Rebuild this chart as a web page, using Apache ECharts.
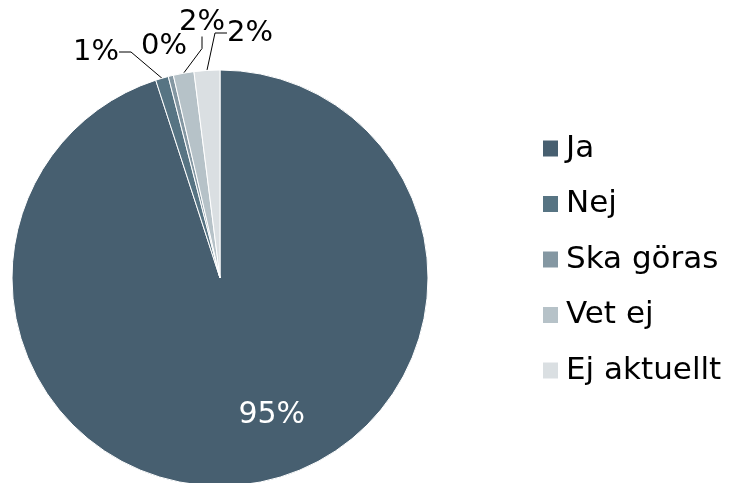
<!DOCTYPE html>
<html>
<head>
<meta charset="utf-8">
<script src="https://cdn.jsdelivr.net/npm/echarts@6/dist/echarts.min.js"></script>
<style>
  html, body { margin: 0; padding: 0; background: #fff; }
  #chart { width: 733px; height: 483px; }
</style>
</head>
<body>
<div id="chart"></div>
<script>
const categories = ['Ja', 'Nej', 'Ska göras', 'Vet ej', 'Ej aktuellt'];
const values = [95.0, 1.0, 0.4, 1.6, 2.0];
const colors = ['#475f70', '#577483', '#8497a2', '#b6c2c8', '#dadfe2'];

// where the small percentage labels sit (label centre), as in the original
const labelSpots = [null, [96, 52], [164, 46], [202, 22], [250, 33]];

const chart = echarts.init(document.getElementById('chart'));
const font = 'DejaVu Sans, Verdana, sans-serif';

chart.setOption({
    animation: false,
    color: colors,
    legend: {
        orient: 'vertical',
        left: 536,
        top: 128,
        itemWidth: 17,
        itemHeight: 18,
        itemGap: 24.5,
        icon: 'rect',
        textStyle: {fontFamily: font, fontSize: 31, color: '#000', padding: [0, 0, 0, 2]},
        data: categories
    },
    series: [{
        type: 'pie',
        center: [220, 278],
        radius: 208,
        startAngle: 90,
        clockwise: true,
        avoidLabelOverlap: false,
        itemStyle: {borderColor: '#fff', borderWidth: 1},
        label: {
            show: true,
            fontFamily: font,
            fontSize: 29,
            color: '#000',
            overflow: 'none',
            formatter: p => Math.round(p.value) + '%'
        },
        labelLine: {show: true, length: 12, length2: 12, lineStyle: {color: '#000', width: 1}},
        labelLayout: params => {
            if (params.dataIndex === 0) {
                return {dx: 35, dy: 32};
            }
            const spot = labelSpots[params.dataIndex];
            return {x: spot[0], y: spot[1], align: 'center', verticalAlign: 'middle'};
        },
        data: categories.map((name, i) => {
            if (i === 0) {
                return {name, value: values[i], label: {position: 'inside', color: '#fff', fontSize: 30}, labelLine: {show: false}};
            }
            if (i === 2) {
                return {name, value: values[i], labelLine: {show: false}};
            }
            return {name, value: values[i]};
        })
    }]
});
</script>
</body>
</html>
